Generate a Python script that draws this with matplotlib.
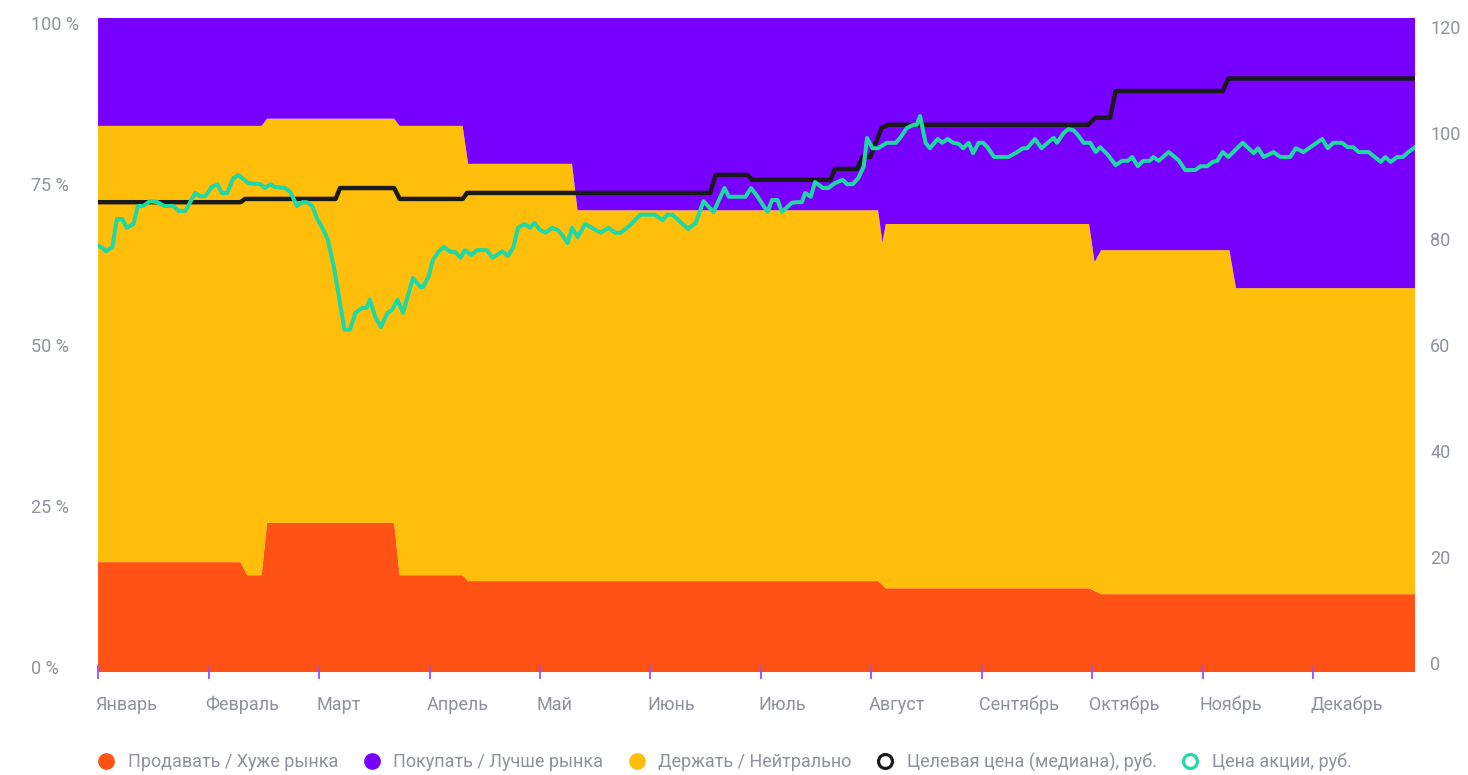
import matplotlib
matplotlib.use("Agg")
import matplotlib.pyplot as plt
from matplotlib.lines import Line2D
from matplotlib.transforms import ScaledTranslation

plt.rcParams['font.family'] = ['Roboto', 'DejaVu Sans']

# month labels; x is measured in months from the start of January
months = ['Январь', 'Февраль', 'Март', 'Апрель', 'Май', 'Июнь',
          'Июль', 'Август', 'Сентябрь', 'Октябрь', 'Ноябрь', 'Декабрь']

# analyst recommendations, % of all ratings
rec_x = [0.00, 1.29, 1.35, 1.48, 1.53, 2.68, 2.73, 3.30, 3.35, 4.29,
         4.34, 7.06, 7.10, 7.13, 8.97, 9.02, 9.08, 10.24, 10.30, 11.92]
sell = [16.8, 16.8, 14.8, 14.8, 22.8, 22.8, 14.8, 14.8, 13.9, 13.9,
        13.9, 13.9, 13.3, 12.8, 12.8, 12.4, 11.9, 11.9, 11.9, 11.9]
hold = [66.7, 66.7, 68.7, 68.7, 61.8, 61.8, 68.7, 68.7, 63.8, 63.8,
        56.7, 56.7, 52.4, 55.7, 55.7, 50.3, 52.6, 52.6, 46.8, 46.8]
buy = [16.5, 16.5, 16.5, 16.5, 15.4, 15.4, 16.5, 16.5, 22.3, 22.3,
       29.4, 29.4, 34.3, 31.5, 31.5, 37.3, 35.5, 35.5, 41.3, 41.3]

# median target price, rub
target_x = [0.00, 1.29, 1.33, 2.15, 2.19, 2.68, 2.73, 3.30, 3.34, 5.54,
            5.59, 5.88, 5.92, 6.63, 6.67, 6.87, 6.92, 6.99, 7.09, 7.15,
            8.96, 9.03, 9.16, 9.21, 10.18, 10.23, 11.92]
target = [86.2, 86.2, 86.8, 86.8, 88.8, 88.8, 86.8, 86.8, 87.9, 87.9,
          91.2, 91.2, 90.3, 90.3, 92.3, 92.3, 94.5, 94.5, 99.8, 100.4,
          100.4, 101.7, 101.7, 106.6, 106.6, 108.9, 108.9]

# share price, rub
price_x = [0.00, 0.04, 0.07, 0.13, 0.17, 0.22, 0.26, 0.32, 0.36, 0.41,
           0.47, 0.54, 0.60, 0.68, 0.73, 0.79, 0.88, 0.92, 0.97, 1.03,
           1.08, 1.12, 1.17, 1.22, 1.27, 1.36, 1.47, 1.51, 1.56, 1.60,
           1.69, 1.74, 1.80, 1.85, 1.89, 1.94, 1.98, 2.04, 2.08, 2.13,
           2.17, 2.23, 2.28, 2.33, 2.39, 2.43, 2.46, 2.51, 2.56, 2.62,
           2.66, 2.71, 2.76, 2.85, 2.92, 2.94, 2.99, 3.03, 3.08, 3.13,
           3.19, 3.23, 3.28, 3.32, 3.38, 3.43, 3.52, 3.57, 3.66, 3.71,
           3.76, 3.80, 3.86, 3.91, 3.95, 4.00, 4.05, 4.11, 4.16, 4.20,
           4.25, 4.29, 4.34, 4.41, 4.47, 4.55, 4.62, 4.68, 4.73, 4.80,
           4.91, 5.04, 5.11, 5.15, 5.20, 5.27, 5.34, 5.41, 5.48, 5.57,
           5.67, 5.71, 5.86, 5.91, 5.97, 6.06, 6.10, 6.15, 6.19, 6.28,
           6.33, 6.37, 6.40, 6.45, 6.49, 6.56, 6.61, 6.67, 6.74, 6.78,
           6.83, 6.88, 6.93, 6.96, 7.01, 7.06, 7.14, 7.22, 7.26, 7.32,
           7.38, 7.41, 7.44, 7.49, 7.53, 7.60, 7.64, 7.69, 7.74, 7.79,
           7.83, 7.88, 7.92, 7.97, 8.01, 8.05, 8.11, 8.24, 8.32, 8.37,
           8.41, 8.48, 8.54, 8.60, 8.65, 8.68, 8.74, 8.78, 8.83, 8.87,
           8.92, 8.98, 9.03, 9.07, 9.14, 9.21, 9.27, 9.32, 9.36, 9.41,
           9.46, 9.52, 9.55, 9.60, 9.69, 9.78, 9.84, 9.93, 9.98, 10.04,
           10.09, 10.13, 10.18, 10.23, 10.36, 10.46, 10.50, 10.55, 10.64, 10.70,
           10.79, 10.84, 10.91, 11.08, 11.13, 11.18, 11.26, 11.31, 11.36, 11.41,
           11.50, 11.61, 11.65, 11.70, 11.76, 11.81, 11.86, 11.92]
price = [78.2, 77.8, 77.2, 78.0, 83.1, 83.1, 81.5, 82.2, 85.5, 85.5,
         86.4, 86.2, 85.5, 85.5, 84.6, 84.6, 87.9, 87.3, 87.3, 89.0,
         89.5, 87.9, 87.9, 90.5, 91.2, 89.7, 89.5, 88.8, 89.5, 89.0,
         88.8, 88.1, 85.5, 86.2, 86.2, 85.5, 83.3, 81.1, 79.3, 74.7,
         70.1, 62.8, 62.8, 65.9, 66.8, 66.8, 68.3, 65.1, 63.3, 65.9,
         66.4, 68.3, 65.9, 72.3, 70.6, 70.6, 72.5, 75.6, 77.1, 78.0,
         77.1, 77.1, 76.0, 77.4, 76.5, 77.4, 77.4, 76.0, 77.2, 76.3,
         78.0, 81.5, 82.2, 81.5, 82.4, 81.1, 80.6, 81.5, 81.1, 80.2,
         78.7, 81.5, 79.8, 82.2, 81.5, 80.6, 81.5, 80.6, 80.6, 81.7,
         83.9, 83.9, 82.9, 83.9, 83.9, 82.6, 81.3, 82.4, 86.4, 84.4,
         88.8, 87.2, 87.2, 88.8, 87.2, 84.4, 86.6, 86.6, 84.4, 86.1,
         86.2, 86.2, 87.9, 87.2, 89.9, 88.8, 88.8, 89.7, 90.3, 89.5,
         89.5, 90.6, 92.7, 98.0, 96.1, 96.1, 97.1, 97.1, 98.0, 99.8,
         100.4, 100.4, 102.0, 97.1, 96.1, 97.8, 97.1, 97.8, 97.1, 96.9,
         96.1, 97.1, 95.2, 97.1, 97.1, 96.3, 94.5, 94.5, 95.4, 96.1,
         96.1, 97.8, 96.1, 97.2, 98.0, 97.1, 98.9, 99.6, 99.4, 98.5,
         97.1, 97.1, 95.4, 96.3, 94.9, 93.0, 93.8, 93.8, 94.5, 92.8,
         93.8, 93.8, 94.5, 93.8, 95.4, 93.9, 92.1, 92.1, 92.8, 92.8,
         93.6, 93.8, 95.4, 94.5, 97.1, 95.2, 96.1, 94.5, 95.4, 94.5,
         94.5, 96.1, 95.4, 97.8, 96.1, 97.1, 97.1, 96.3, 96.3, 95.4,
         95.4, 93.6, 94.5, 93.6, 94.5, 94.5, 95.4, 96.3]

pct_ticks = [0, 25, 50, 75, 100]
rub_ticks = [0, 20, 40, 60, 80, 100, 120]

SELL = '#FF5214'
BUY = '#7700FF'
HOLD = '#FFBE0A'
TARGET = '#1A1A1A'
PRICE = '#1FD8A3'
GREY = '#8E929C'
FS = 13

fig = plt.figure(figsize=(14.68, 7.75), dpi=100)
ax = fig.add_axes([0.0668, 0.1329, 0.8971, 0.8439])

ax.stackplot(rec_x, sell, hold, buy, colors=[SELL, HOLD, BUY], linewidth=0)
ax.set_xlim(0, 11.92)
ax.set_ylim(0, 100)

ax.set_yticks(pct_ticks)
ax.set_yticklabels([f'{v} %' for v in pct_ticks])
ax.tick_params(axis='y', length=0, pad=48, labelsize=FS, labelcolor=GREY)


def squeeze_labels(labels, ticks, top, frac):
    # pull the outer tick labels slightly inward so they stay inside the plot
    for lbl, v in zip(labels, ticks):
        shift = (frac - 2 * frac * v / top) * 72 / 100
        lbl.set_transform(lbl.get_transform() + ScaledTranslation(0, shift / 72, fig.dpi_scale_trans))


for lbl in ax.get_yticklabels():
    lbl.set_horizontalalignment('left')
squeeze_labels(ax.get_yticklabels(), pct_ticks, 100, 5.5)

ax.set_xticks(range(12))
ax.set_xticklabels(months)
ax.tick_params(axis='x', direction='inout', length=10, width=1.3,
               color='#9B4DFF', pad=12, labelsize=FS, labelcolor=GREY)
for lbl in ax.get_xticklabels():
    lbl.set_horizontalalignment('left')
    lbl.set_transform(lbl.get_transform() + ScaledTranslation(-3 / 100, 0, fig.dpi_scale_trans))

for s in ax.spines.values():
    s.set_visible(False)

# prices on the right-hand scale
ax2 = ax.twinx()
ax2.plot(target_x, target, color=TARGET, lw=3.2, solid_joinstyle='round')
ax2.plot(price_x, price, color=PRICE, lw=2.9, solid_joinstyle='round')
ax2.set_ylim(0, 120)
ax2.set_yticks(rub_ticks)
ax2.tick_params(axis='y', length=0, pad=11, labelsize=FS, labelcolor=GREY)
squeeze_labels(ax2.get_yticklabels(), rub_ticks, 120, 9.5)
for s in ax2.spines.values():
    s.set_visible(False)

handles = [
    Line2D([], [], ls='none', marker='o', ms=11, mfc=SELL, mec=SELL),
    Line2D([], [], ls='none', marker='o', ms=11, mfc=BUY, mec=BUY),
    Line2D([], [], ls='none', marker='o', ms=11, mfc=HOLD, mec=HOLD),
    Line2D([], [], ls='none', marker='o', ms=10, mfc='white', mec=TARGET, mew=2.3),
    Line2D([], [], ls='none', marker='o', ms=10, mfc='white', mec=PRICE, mew=2.3),
]
labels = ['Продавать / Хуже рынка', 'Покупать / Лучше рынка',
          'Держать / Нейтрально', 'Целевая цена (медиана), руб.',
          'Цена акции, руб.']
fig.legend(handles, labels, loc='center', bbox_to_anchor=(0.4935, 0.0168),
           ncol=5, frameon=False, fontsize=FS, labelcolor=GREY,
           handlelength=1.0, handletextpad=0.7, columnspacing=1.35)

fig.savefig('out.png', dpi=100)
